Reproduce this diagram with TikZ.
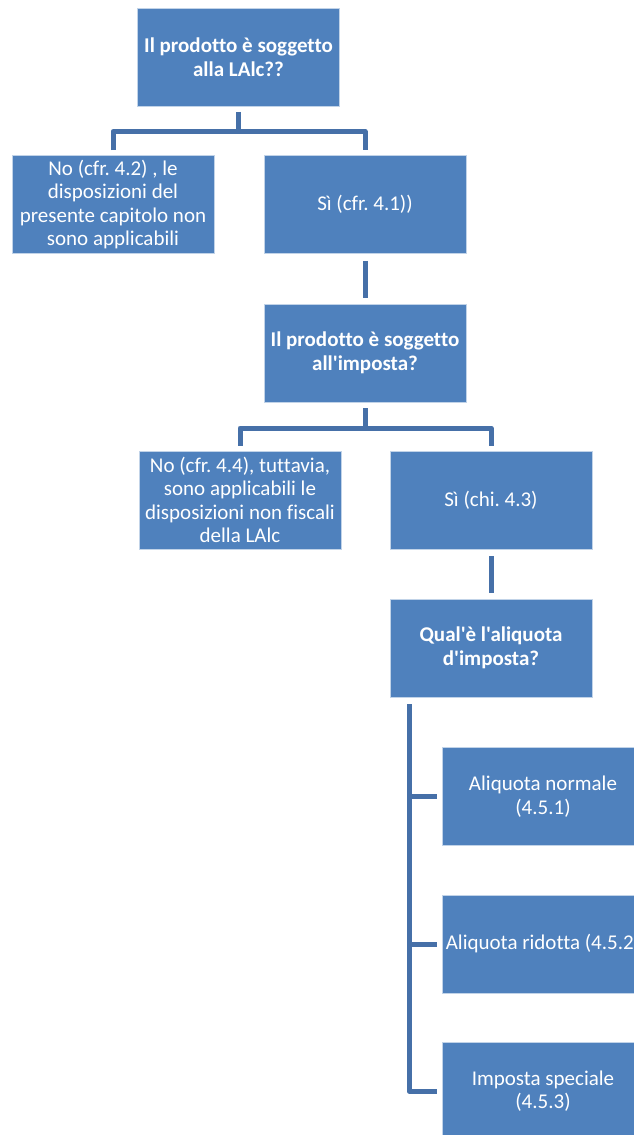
\documentclass[tikz,border=0pt]{standalone}
\usepackage{fontspec}
\setmainfont{Carlito}[Ligatures={TeXOff,CommonOff}]
\usetikzlibrary{calc}
\definecolor{boxblue}{RGB}{79,129,189}
\definecolor{connblue}{RGB}{70,112,168}
\frenchspacing
\tikzset{
  flowbox/.style={rectangle, fill=boxblue, draw=white!65!boxblue, line width=0.7pt,
    minimum width=202pt, minimum height=98pt, inner sep=0pt, align=center,
    text=white, font=\fontsize{21}{23.5}\selectfont},
  qbox/.style={flowbox, font=\fontsize{21}{23.5}\selectfont\bfseries},
  conn/.style={draw=connblue, line width=5pt, line join=round}
}
\begin{document}
\begin{tikzpicture}[x=1pt, y=-1pt]
\useasboundingbox (0,0) rectangle (634,1135);
\fill[white] (0,0) rectangle (634,1135);
\clip (0,0) rectangle (634,1135);

\node[qbox] (top) at (238.5,57) {Il prodotto è soggetto\\alla LAlc??};
\node[flowbox] (no1) at (113,204.5) {No (cfr. 4.2) , le\\disposizioni del\\presente capitolo non\\sono applicabili};
\node[flowbox] (si1) at (365,204.5) {Sì (cfr. 4.1))};
\node[qbox] (q2) at (365,353) {Il prodotto è soggetto\\all'imposta?};
\node[flowbox] (no2) at (240,500) {No (cfr. 4.4), tuttavia,\\sono applicabili le\\disposizioni non fiscali\\della LAlc};
\node[flowbox] (si2) at (491,500) {Sì (chi. 4.3)};
\node[qbox] (q3) at (491,648) {Qual'è l'aliquota\\d'imposta?};
\node[flowbox] (c1) at (543,796.5) {Aliquota normale\\(4.5.1)};
\node[flowbox] (c2) at (543,944) {Aliquota ridotta (4.5.2)};
\node[flowbox] (c3) at (543,1091) {Imposta speciale\\(4.5.3)};

% junction coordinates
\coordinate (j1) at (238.5,131.5);
\coordinate (j2) at (365,428);
\coordinate (t3) at (409,704);

% top -> no1 / si1
\draw[conn] ([yshift=-5.5pt]top.south) -- (top.south |- j1);
\draw[conn] ([yshift=5pt]no1.north) -- (no1.north |- j1) -- (si1.north |- j1) -- ([yshift=5pt]si1.north);

% si1 -> q2
\draw[conn] ([yshift=-7pt]si1.south) -- ([yshift=6pt]q2.north);

% q2 -> no2 / si2
\draw[conn] ([yshift=-6pt]q2.south) -- (q2.south |- j2);
\draw[conn] ([yshift=5pt]no2.north) -- (no2.north |- j2) -- (si2.north |- j2) -- ([yshift=5pt]si2.north);

% si2 -> q3
\draw[conn] ([yshift=-7pt]si2.south) -- ([yshift=6pt]q3.north);

% q3 -> children
\draw[conn] (t3) -- (t3 |- c3.west) -- ([xshift=-5pt]c3.west);
\draw[conn] (t3 |- c1.west) -- ([xshift=-5pt]c1.west);
\draw[conn] (t3 |- c2.west) -- ([xshift=-5pt]c2.west);
\end{tikzpicture}
\end{document}
